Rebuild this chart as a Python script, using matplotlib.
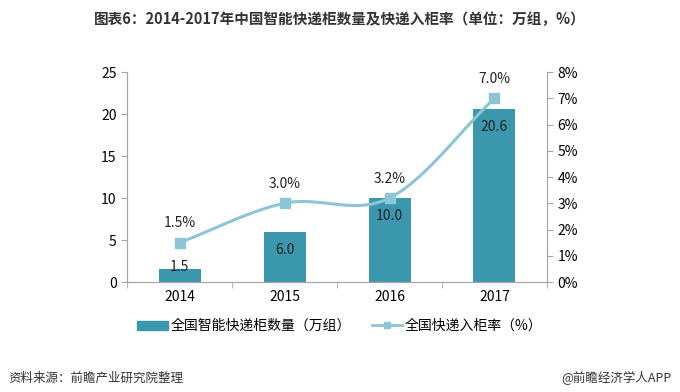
import numpy as np
import matplotlib.pyplot as plt
from matplotlib.lines import Line2D
from matplotlib.patches import Patch

plt.rcParams['font.family'] = ['Noto Sans CJK SC', 'DejaVu Sans']

# data
years = ['2014', '2015', '2016', '2017']
lockers = [1.5, 6.0, 10.0, 20.6]   # 万组
rate = [1.5, 3.0, 3.2, 7.0]        # %

bar_color = '#3b97ad'
line_color = '#8cc5d3'
axis_color = '#a6a6a6'

fig = plt.figure(figsize=(6.8, 3.92), dpi=100)
ax = fig.add_axes([0.1868, 0.2806, 0.6176, 0.5357])
ax2 = ax.twinx()

x = np.arange(len(years))
ax.bar(x, lockers, width=0.4, color=bar_color, zorder=2)
for xi, v in zip(x, lockers):
    ax.text(xi, max(v - 2.15, 1.8), f'{v:.1f}', ha='center', va='center',
            fontsize=10, color='#222222', zorder=5)

# smooth line (catmull-rom style like Excel)
def smooth(xs, ys, n=30):
    xs = np.asarray(xs, float); ys = np.asarray(ys, float)
    px = np.concatenate([[2*xs[0]-xs[1]], xs, [2*xs[-1]-xs[-2]]])
    py = np.concatenate([[2*ys[0]-ys[1]], ys, [2*ys[-1]-ys[-2]]])
    ox, oy = [], []
    t = np.linspace(0, 1, n)
    for i in range(1, len(px)-2):
        for p, o in ((px, ox), (py, oy)):
            p0, p1, p2, p3 = p[i-1], p[i], p[i+1], p[i+2]
            o.extend(0.5*((2*p1) + (-p0+p2)*t + (2*p0-5*p1+4*p2-p3)*t**2
                          + (-p0+3*p1-3*p2+p3)*t**3))
    return ox, oy

sx, sy = smooth(x, rate)
ax2.plot(sx, sy, color=line_color, lw=2.2, zorder=3)
ax2.plot(x, rate, 's', color=line_color, ms=6.5, zorder=4)
for xi, v in zip(x, rate):
    ax2.annotate(f'{v:.1f}%', (xi, v), xytext=(0, 14), textcoords='offset points',
                 ha='center', va='center', fontsize=10, color='#222222')

ax.set_ylim(0, 25)
ax.set_yticks(range(0, 26, 5))
ax2.set_ylim(0, 8)
ax2.set_yticks(range(0, 9))
ax2.set_yticklabels([f'{i}%' for i in range(0, 9)])
ax.set_xlim(-0.5, 3.5)
ax.set_xticks(x)
ax.set_xticklabels(years)
ax.set_xticks(np.arange(-0.5, 3.6, 1), minor=True)
ax.tick_params(axis='x', which='major', length=0, labelsize=10, pad=6)
ax.tick_params(axis='x', which='minor', length=4, color=axis_color)
ax.tick_params(axis='y', length=4, color=axis_color, labelsize=10)
ax2.tick_params(axis='y', length=4, color=axis_color, labelsize=10)

for a in (ax, ax2):
    a.spines['top'].set_visible(False)
    for s in ('left', 'right', 'bottom'):
        a.spines[s].set_color(axis_color)
ax2.set_zorder(ax.get_zorder() + 1)
ax2.patch.set_visible(False)

fig.text(0.5, 0.952, '图表6：2014-2017年中国智能快递柜数量及快递入柜率（单位：万组，%）',
         ha='center', va='center', fontsize=10.5, fontweight='bold', color='#333333')

handles = [Patch(color=bar_color),
           Line2D([], [], color=line_color, lw=2, marker='s', ms=5)]
fig.legend(handles, ['全国智能快递柜数量（万组）', '全国快递入柜率（%）'],
           loc='center', bbox_to_anchor=(0.5, 0.168), ncol=2, frameon=False,
           fontsize=10, handlelength=2.2, handleheight=0.6, columnspacing=1.5,
           handletextpad=0.2)

fig.text(0.012, 0.035, '资料来源：前瞻产业研究院整理', fontsize=9, style='italic',
         color='#333333', va='center')
fig.text(0.988, 0.035, '@前瞻经济学人APP', fontsize=9, color='#333333',
         ha='right', va='center')

fig.savefig('out.png', dpi=100)
